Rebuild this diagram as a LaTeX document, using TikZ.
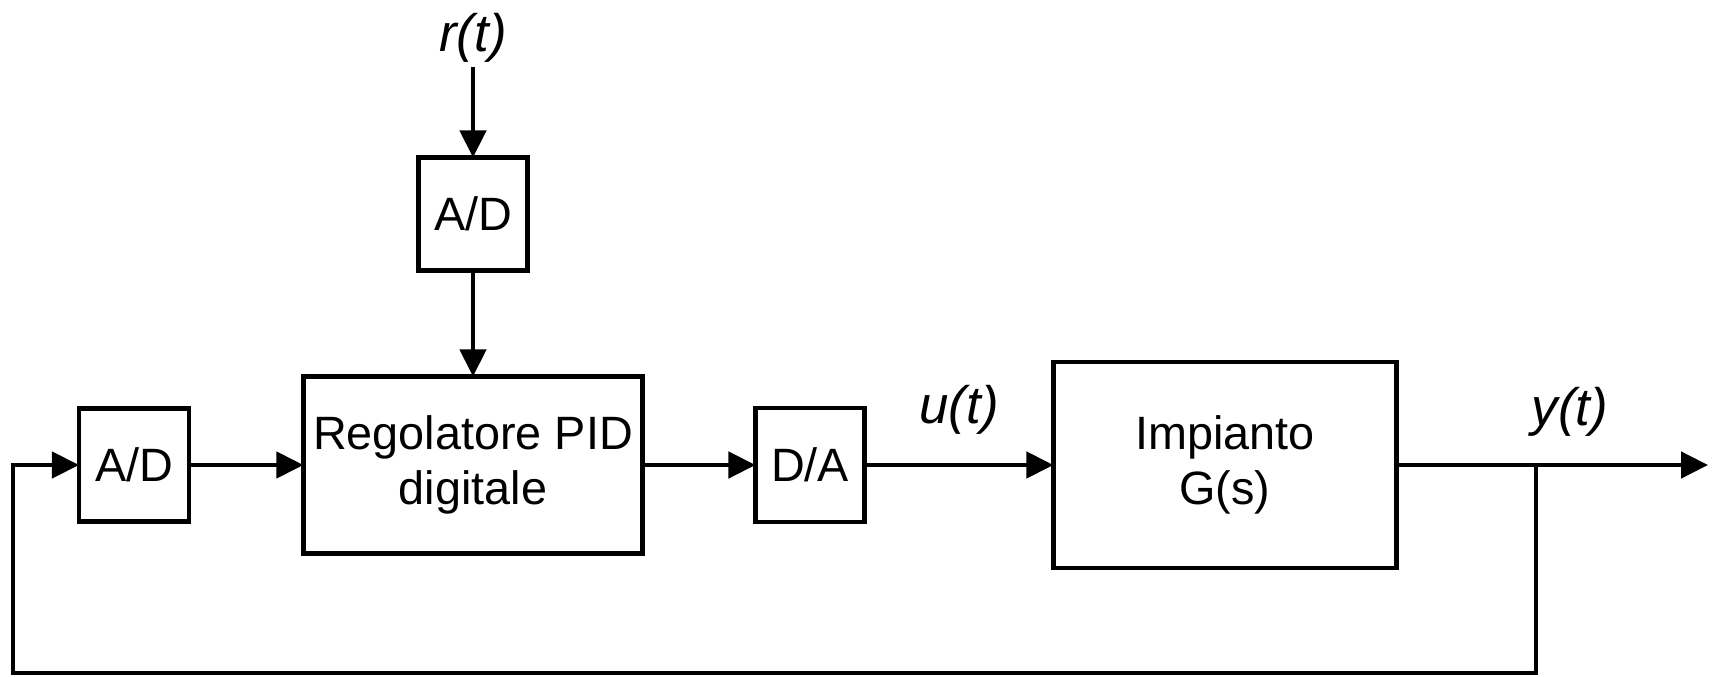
\documentclass[tikz,border=0pt]{standalone}
\usepackage{fontspec}
\setmainfont{Liberation Sans}
\usetikzlibrary{arrows.meta}

\begin{document}
\begin{tikzpicture}[
    x=0.01cm, y=-0.01cm,
    block/.style={rectangle, draw, line width=1.3pt, inner sep=0pt, outer sep=0pt, align=center, font=\fontsize{13.3}{15.6}\selectfont},
    signal/.style={font=\fontsize{15}{18}\selectfont\itshape},
    wire/.style={line width=1.3pt, -{Triangle[length=2.7mm, width=2.6mm]}}
]
\useasboundingbox (0,0) rectangle (1713,676);

% Blocks
\node[block, minimum width=1.09cm, minimum height=1.13cm] (adref) at (473,214) {A/D};
\node[block, minimum width=3.39cm, minimum height=1.77cm] (pid) at (473,465) {Regolatore PID\\digitale};
\node[block, minimum width=1.10cm, minimum height=1.13cm] (adfb) at (134,465) {A/D};
\node[block, minimum width=1.09cm, minimum height=1.14cm] (da) at (810,465) {D/A};
\node[block, minimum width=3.43cm, minimum height=2.06cm] (plant) at (1225,465) {Impianto\\G(s)};

% Signals
\node[signal, inner sep=1pt] (r) at (473,38) {r(t)};
\node[signal] (u) at (959,410) {u(t)};
\node[signal] (y) at (1570,412) {y(t)};
\coordinate (out) at (1708,465);
\coordinate (tap) at (1536,465);
\coordinate (fb) at (13,673);

% Connections
\draw[wire] (r.south) -- (adref);
\draw[wire] (adref) -- (pid);
\draw[wire] (adfb) -- (pid);
\draw[wire] (pid) -- (da);
\draw[wire] (da) -- (plant);
\draw[wire] (plant) -- (out);

% Feedback
\draw[wire] (tap) |- (fb) |- (adfb);

\end{tikzpicture}
\end{document}
